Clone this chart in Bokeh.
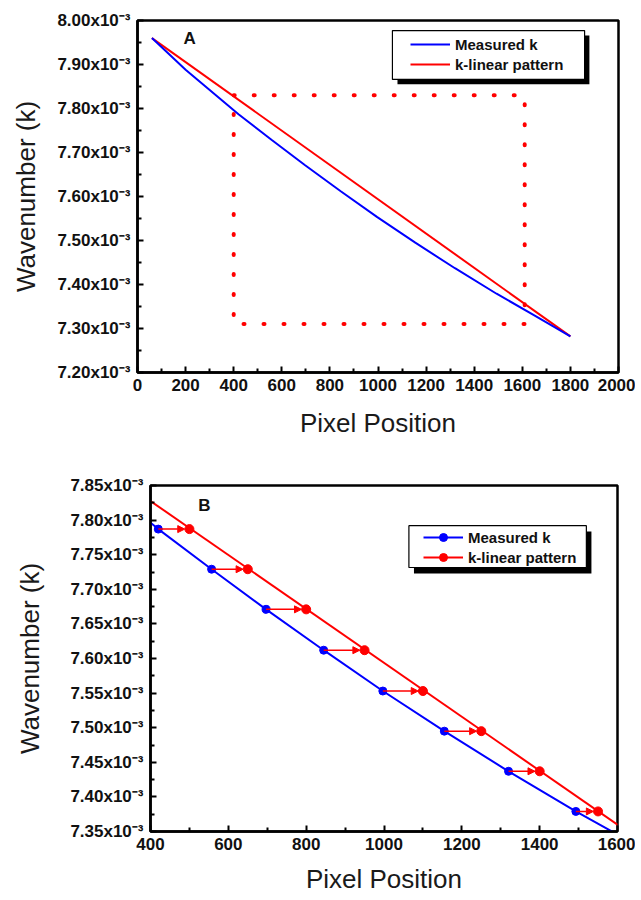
import numpy as np
from bokeh.plotting import figure
from bokeh.layouts import column, row
from bokeh.models import (ColumnDataSource, Range1d, FixedTicker, CustomJSTickFormatter,
                          Legend, LegendItem, BoxAnnotation, Label, Arrow, NormalHead, Spacer)
from bokeh.embed import file_html
from bokeh.resources import INLINE

# ---------------- data (wavenumber k in units of 1e-3) ----------------
measured_px = [60, 200, 420, 557, 697, 845, 997, 1155, 1320, 1493, 1650, 1800]
measured_k = [7.960, 7.888, 7.787, 7.729, 7.671, 7.612, 7.553, 7.495, 7.437, 7.379, 7.330, 7.282]
linear_px = [60, 1800]
linear_k = [7.960, 7.282]

# panel B sample points (same k, shifted pixel position)
b_measured_px = [420, 557, 697, 845, 997, 1155, 1320, 1493]
b_linear_px = [500, 650, 800, 950, 1100, 1250, 1400, 1550]
b_k = [7.787, 7.729, 7.671, 7.612, 7.553, 7.495, 7.437, 7.379]

# dotted zoom region drawn in panel A
zoom_px = [400, 1610]
zoom_k = [7.31, 7.83]

# tick labels
xticks_a = [0, 200, 400, 600, 800, 1000, 1200, 1400, 1600, 1800, 2000]
yticks_a = [7.20, 7.30, 7.40, 7.50, 7.60, 7.70, 7.80, 7.90, 8.00]
xticks_b = [400, 600, 800, 1000, 1200, 1400, 1600]
yticks_b = [7.35, 7.40, 7.45, 7.50, 7.55, 7.60, 7.65, 7.70, 7.75, 7.80, 7.85]

labels = ["Measured k", "k-linear pattern"]

BLUE = "#0000ff"
RED = "#ff0000"
FONT = "Liberation Sans"


def minors(ticks):
    t = np.array(ticks, dtype=float)
    return list((t[:-1] + t[1:]) / 2.0)


def style(p, xt, yt, ylab_standoff, xlab_standoff):
    p.xgrid.visible = False
    p.ygrid.visible = False
    p.outline_line_color = "black"
    p.outline_line_width = 2.5
    p.outline_line_alpha = 1
    p.xaxis.ticker = FixedTicker(ticks=xt, minor_ticks=minors(xt))
    p.yaxis.ticker = FixedTicker(ticks=yt, minor_ticks=minors(yt))
    p.yaxis.formatter = CustomJSTickFormatter(code="return tick.toFixed(2) + 'x10\u207B\u00B3';")
    for ax in (p.xaxis[0], p.yaxis[0]):
        ax.axis_line_width = 2.5
        ax.axis_line_color = "black"
        ax.major_tick_in = 6
        ax.major_tick_out = 0
        ax.minor_tick_in = 4
        ax.minor_tick_out = 0
        ax.major_tick_line_width = 2
        ax.minor_tick_line_width = 2
        ax.major_label_text_font = FONT
        ax.major_label_text_font_style = "bold"
        ax.major_label_text_font_size = "17px"
        ax.major_label_text_color = "#111111"
        ax.axis_label_text_font = FONT
        ax.axis_label_text_font_style = "normal"
        ax.axis_label_text_font_size = "26px"
        ax.axis_label_text_color = "#1a1a1a"
    p.xaxis.major_label_standoff = 6
    p.yaxis.major_label_standoff = 7
    p.xaxis.axis_label = "Pixel Position"
    p.yaxis.axis_label = "Wavenumber (k)"
    p.xaxis.axis_label_standoff = xlab_standoff
    p.yaxis.axis_label_standoff = ylab_standoff


def add_legend(p, items, loc, box, shadow):
    p.add_layout(BoxAnnotation(left=shadow[0], right=shadow[1], bottom=shadow[2], top=shadow[3],
                               fill_color="black", fill_alpha=1, line_alpha=0))
    p.add_layout(BoxAnnotation(left=box[0], right=box[1], bottom=box[2], top=box[3],
                               fill_color="white", fill_alpha=1, line_color="black",
                               line_width=1.2, line_alpha=1))
    leg = Legend(items=items, location=loc, border_line_alpha=0, background_fill_alpha=0,
                 padding=4, spacing=0, margin=0, glyph_width=40, glyph_height=20,
                 label_height=20, label_standoff=5, label_text_font=FONT,
                 label_text_font_style="bold", label_text_font_size="15px",
                 label_text_color="#111111")
    p.add_layout(leg)


# ---------------- panel A ----------------
p1 = figure(width=635, height=450, x_range=Range1d(0, 2000), y_range=Range1d(7.2, 8.0),
            output_backend="svg", toolbar_location=None,
            min_border_left=137, min_border_right=17, min_border_top=20, min_border_bottom=78)
style(p1, xticks_a, yticks_a, 13, 14)

p1.quad(left=[zoom_px[0]], right=[zoom_px[1]], bottom=[zoom_k[0]], top=[zoom_k[1]],
        fill_alpha=0, line_color=RED, line_width=4, line_dash="1 19", line_cap="round")
ra_lin = p1.line(linear_px, linear_k, line_color=RED, line_width=2)
ra_meas = p1.line(measured_px, measured_k, line_color=BLUE, line_width=2)

p1.add_layout(Label(x=191, y=7.960, text="A", text_font=FONT, text_font_style="bold",
                    text_font_size="17px", text_baseline="middle", text_color="#111111"))
add_legend(p1, [LegendItem(label=labels[0], renderers=[ra_meas]),
                LegendItem(label=labels[1], renderers=[ra_lin])],
           (269, 294), (1060, 1859, 7.866, 7.977), (1081, 1879, 7.855, 7.966))

# ---------------- panel B ----------------
p2 = figure(width=623, height=448, x_range=Range1d(400, 1600), y_range=Range1d(7.35, 7.85),
            output_backend="svg", toolbar_location=None,
            min_border_left=137, min_border_right=18, min_border_top=35, min_border_bottom=67)
style(p2, xticks_b, yticks_b, 22, 11)

rb_lin = p2.line(linear_px, linear_k, line_color=RED, line_width=2)
rb_meas = p2.line(measured_px, measured_k, line_color=BLUE, line_width=2)

arrow_src = ColumnDataSource(dict(x0=b_measured_px, x1=[x - 12 for x in b_linear_px], y=b_k))
p2.add_layout(Arrow(end=NormalHead(size=7, fill_color=RED, line_color=RED, line_width=1),
                    x_start="x0", y_start="y", x_end="x1", y_end="y", source=arrow_src,
                    line_color=RED, line_width=1.5))

sb_meas = p2.scatter(b_measured_px, b_k, size=8, marker="circle", fill_color=BLUE, line_color=BLUE)
sb_lin = p2.scatter(b_linear_px, b_k, size=9, marker="circle", fill_color=RED, line_color=RED)

p2.add_layout(Label(x=523, y=7.821, text="B", text_font=FONT, text_font_style="bold",
                    text_font_size="17px", text_baseline="middle", text_color="#111111"))
add_legend(p2, [LegendItem(label=labels[0], renderers=[rb_meas, sb_meas]),
                LegendItem(label=labels[1], renderers=[rb_lin, sb_lin])],
           (269, 260), (1064, 1520, 7.7315, 7.792), (1077, 1533, 7.7228, 7.7835))

layout = column(p1, row(Spacer(width=12, height=448), p2, spacing=0), spacing=0)
open("out.html", "w").write(file_html(layout, INLINE))
